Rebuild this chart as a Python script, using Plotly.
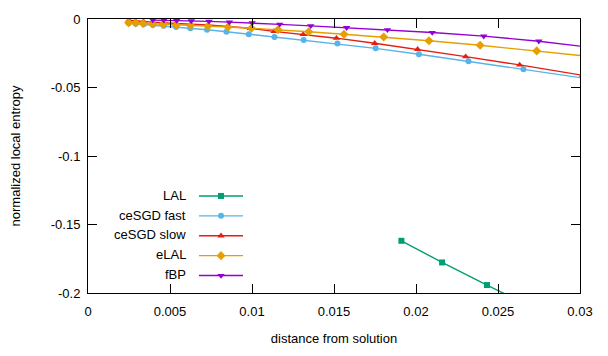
import plotly.graph_objects as go

# ---- data ----
lal_x = [0.01911, 0.02159, 0.02433, 0.02736]
lal_y = [-0.1619, -0.1777, -0.1942, -0.2122]

fast_x = [0.00248, 0.00291, 0.00340, 0.00396, 0.00462, 0.00537, 0.00624, 0.00726, 0.00844,
          0.00980, 0.01137, 0.01315, 0.01521, 0.01754, 0.02018, 0.02320, 0.02655, 0.03035]
fast_y = [-0.0031, -0.0035, -0.0039, -0.0044, -0.0050, -0.0058, -0.0068, -0.0079, -0.0093,
          -0.0111, -0.0131, -0.0153, -0.0179, -0.0214, -0.0257, -0.0308, -0.0367, -0.0434]

slow_x = [0.00248, 0.00291, 0.00338, 0.00393, 0.00457, 0.00535, 0.00626, 0.00732, 0.00854,
          0.00990, 0.01134, 0.01312, 0.01515, 0.01748, 0.02010, 0.02303, 0.02632, 0.03016]
slow_y = [-0.0009, -0.0015, -0.0018, -0.0023, -0.0028, -0.0033, -0.0038, -0.0044, -0.0053,
          -0.0068, -0.0090, -0.0113, -0.0140, -0.0177, -0.0221, -0.0275, -0.0335, -0.0411]

elal_x = [0.00248, 0.00291, 0.00335, 0.00393, 0.00457, 0.00539, 0.00626, 0.00732, 0.00854,
          0.00996, 0.01159, 0.01346, 0.01561, 0.01803, 0.02079, 0.02391, 0.02736, 0.03120]
elal_y = [-0.0027, -0.0029, -0.0032, -0.0036, -0.0039, -0.0044, -0.0047, -0.0052, -0.0058,
          -0.0067, -0.0078, -0.0093, -0.0111, -0.0131, -0.0159, -0.0192, -0.0233, -0.0281]

fbp_x = [0.00395, 0.00463, 0.00541, 0.00630, 0.00738, 0.00862, 0.01001, 0.01169, 0.01358,
         0.01577, 0.01826, 0.02099, 0.02413, 0.02749, 0.03120]
fbp_y = [-0.0008, -0.0009, -0.0011, -0.0014, -0.0017, -0.0023, -0.0029, -0.0039, -0.0050,
         -0.0063, -0.0079, -0.0099, -0.0125, -0.0162, -0.0215]

series_names = ["LAL", "ceSGD fast", "ceSGD slow", "eLAL", "fBP"]

x_tickvals = [0, 0.005, 0.01, 0.015, 0.02, 0.025, 0.03]
x_ticktext = ["0", "0.005", "0.01", "0.015", "0.02", "0.025", "0.03"]
y_tickvals = [0, -0.05, -0.1, -0.15, -0.2]
y_ticktext = ["0", "-0.05", "-0.1", "-0.15", "-0.2"]

# ---- styles ----
colors = ["#009e73", "#56b4e9", "#e51e10", "#e69f00", "#9400d3"]
symbols = ["square", "circle", "triangle-up", "diamond", "triangle-down"]
sizes = [6, 6, 6.5, 7, 6.5]
FONT = "Liberation Sans, Arial, Helvetica, sans-serif"

data = [(lal_x, lal_y), (fast_x, fast_y), (slow_x, slow_y), (elal_x, elal_y), (fbp_x, fbp_y)]

fig = go.Figure()
for (xs, ys), name, c, s, sz in zip(data, series_names, colors, symbols, sizes):
    fig.add_trace(go.Scatter(
        x=xs, y=ys, mode="lines+markers", name=" ",
        line=dict(color=c, width=1.4),
        marker=dict(color=c, symbol=s, size=sz, line=dict(width=0)),
        hovertemplate=name + ": (%{x}, %{y})<extra></extra>",
    ))

# page has an 8px body margin; figure box is offset by it
OFF = 8
W, H = 608 - OFF, 356 - OFF
L, T = 88 - OFF, 19 - OFF
R = W - (580 - OFF)
B = H - (293 - OFF)
pw, ph = W - L - R, H - T - B


def px_to_paper_x(px):
    return (px - OFF - L) / pw


def px_to_paper_y(py):
    return (H - B - (py - OFF)) / ph


# legend labels (gnuplot puts the text left of the sample)
label_right_px = 188
row_px = [195, 215, 234.5, 254, 274]
for name, ypx in zip(series_names, row_px):
    fig.add_annotation(
        x=px_to_paper_x(label_right_px), y=px_to_paper_y(ypx), xref="paper", yref="paper",
        text=name, showarrow=False, xanchor="right", yanchor="middle",
        font=dict(family=FONT, size=13, color="#000"),
    )

axis_common = dict(
    showline=True, linecolor="#000", linewidth=1, mirror="ticks",
    ticks="inside", ticklen=9, tickcolor="#000", tickwidth=1,
    showgrid=False, zeroline=False, automargin=False,
    tickfont=dict(family=FONT, size=13, color="#000"),
)

fig.update_layout(
    template="none",
    width=W, height=H,
    margin=dict(l=L, r=R, t=T, b=B, pad=0, autoexpand=False),
    plot_bgcolor="white", paper_bgcolor="white",
    font=dict(family=FONT, size=13, color="#000"),
    showlegend=True,
    legend=dict(
        x=px_to_paper_x(194), y=px_to_paper_y(181), xanchor="left", yanchor="top",
        bgcolor="rgba(0,0,0,0)", borderwidth=0, itemwidth=44,
        font=dict(family=FONT, size=13), tracegroupgap=0,
    ),
    xaxis=dict(
        range=[0, 0.03], tickvals=x_tickvals, ticktext=x_ticktext,
        ticklabelstandoff=6,
        title=dict(text="distance from solution", font=dict(family=FONT, size=13), standoff=16),
        **axis_common,
    ),
    yaxis=dict(
        range=[-0.2, 0], tickvals=y_tickvals, ticktext=y_ticktext,
        ticklabelstandoff=4,
        title=dict(text="normalized local entropy", font=dict(family=FONT, size=13), standoff=29),
        **axis_common,
    ),
)

fig.write_html("out.html")
